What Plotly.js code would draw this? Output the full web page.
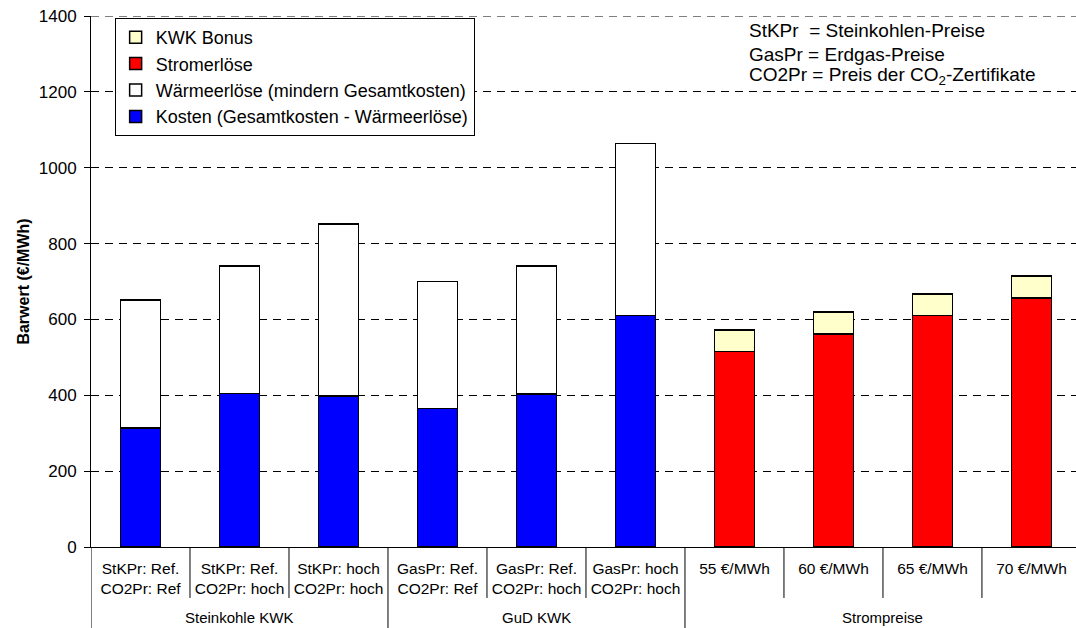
<!DOCTYPE html>
<html>
<head>
<meta charset="utf-8">
<script src="https://cdn.plot.ly/plotly-3.0.1.min.js"></script>
<style>html,body{margin:0;padding:0;background:#fff;}#chart{width:1076px;height:628px;}</style>
</head>
<body>
<div id="chart"></div>
<script>
// ---- data ----
const categories = [
  "StKPr: Ref.<br>CO2Pr: Ref",
  "StKPr: Ref.<br>CO2Pr: hoch",
  "StKPr: hoch<br>CO2Pr: hoch",
  "GasPr: Ref.<br>CO2Pr: Ref",
  "GasPr: Ref.<br>CO2Pr: hoch",
  "GasPr: hoch<br>CO2Pr: hoch",
  "55 €/MWh",
  "60 €/MWh",
  "65 €/MWh",
  "70 €/MWh"
];
const groups = ["Steinkohle KWK", "GuD KWK", "Strompreise"];
const groupSizes = [3, 3, 4];
const kosten = [314, 405, 398, 365, 404, 610, null, null, null, null];
const waermeerloese = [337, 336, 453, 335, 337, 454, null, null, null, null];
const stromerloese = [null, null, null, null, null, null, 515, 562, 610, 657];
const kwkBonus = [null, null, null, null, null, null, 57, 57, 57, 57];
const glossary = [
  "StKPr\u00a0 = Steinkohlen-Preise",
  "GasPr = Erdgas-Preise",
  "CO2Pr = Preis der CO<sub>2</sub>-Zertifikate"
];
const yTitle = "Barwert (€/MWh)";
const yMax = 1400;

// ---- styling ----
const FONT = "Liberation Sans, Arial, sans-serif";
const outline = {color: "#000", width: 1.5};

const traces = [
  {name: "Kosten (Gesamtkosten - Wärmeerlöse)", y: kosten, color: "#0000FF"},
  {name: "Wärmeerlöse (mindern Gesamtkosten)", y: waermeerloese, color: "#FFFFFF"},
  {name: "Stromerlöse", y: stromerloese, color: "#FF0000"},
  {name: "KWK Bonus", y: kwkBonus, color: "#FFFFCC"}
].map(t => ({
  type: "bar", x: categories, y: t.y, name: t.name,
  width: 0.4,
  marker: {color: t.color, line: outline},
  hoverinfo: "x+y+name"
}));

// separators and group labels below the axis
const shapes = [];
const annotations = [];
let start = 0;
groups.forEach((g, gi) => {
  const n = groupSizes[gi];
  shapes.push({type: "line", xref: "x", yref: "paper", x0: start - 0.5, x1: start - 0.5, y0: 0, y1: -0.16,
    line: {color: "#000", width: 1}});
  for (let k = 1; k < n; k++) {
    const xb = start + k - 0.5;
    shapes.push({type: "line", xref: "x", yref: "paper", x0: xb, x1: xb, y0: 0, y1: -0.096,
      line: {color: "#000", width: 1}});
  }
  annotations.push({xref: "x", yref: "paper", x: start + (n - 1) / 2, y: -0.1337, yanchor: "middle",
    text: g, showarrow: false, font: {family: FONT, size: 15, color: "#000"}});
  start += n;
});
shapes.push({type: "line", xref: "x", yref: "paper", x0: start - 0.5, x1: start - 0.5, y0: 0, y1: -0.16,
  line: {color: "#000", width: 1}});
// top gridline (at the range end, which Plotly does not draw)
shapes.push({type: "line", xref: "paper", yref: "y", x0: 0, x1: 1, y0: yMax, y1: yMax, layer: "below",
  line: {color: "#000", width: 1, dash: "8px,6px"}});

const glossY = [0.9718, 0.9284, 0.8870];
glossary.forEach((t, i) => {
  annotations.push({xref: "paper", yref: "paper", x: 0.666, y: glossY[i], xanchor: "left", yanchor: "middle",
    text: t, showarrow: false, font: {family: FONT, size: 19, color: "#000"}});
});

const layout = {
  width: 1076, height: 628,
  margin: {l: 91, r: 0, t: 16, b: 81, pad: 0},
  paper_bgcolor: "#fff", plot_bgcolor: "#fff",
  font: {family: FONT, color: "#000"},
  barmode: "stack",
  showlegend: true,
  legend: {
    x: 0.024, y: 0.9962, xanchor: "left", yanchor: "top",
    traceorder: "reversed",
    bgcolor: "#fff", bordercolor: "#000", borderwidth: 1,
    font: {family: FONT, size: 18, color: "#000"}
  },
  xaxis: {
    type: "category",
    range: [-0.5, 9.45],
    showline: true, linecolor: "#000", linewidth: 1,
    ticks: "", showgrid: false, zeroline: false,
    tickfont: {family: FONT, size: 15.5, color: "#000"},
    ticklabelstandoff: 7,
    fixedrange: true
  },
  yaxis: {
    range: [0, yMax], dtick: 200, tick0: 0,
    showline: true, linecolor: "#000", linewidth: 1,
    ticks: "outside", ticklen: 6, tickcolor: "#000", tickwidth: 1,
    showgrid: true, gridcolor: "#000", gridwidth: 1, griddash: "8px,6px",
    zeroline: false,
    tickfont: {family: FONT, size: 17, color: "#000"},
    ticklabelstandoff: 4,
    title: {text: yTitle, font: {family: FONT, size: 16, color: "#000", weight: "bold"}, standoff: 5},
    fixedrange: true
  },
  shapes: shapes,
  annotations: annotations
};

Plotly.newPlot("chart", traces, layout, {displayModeBar: false, staticPlot: true});
</script>
</body>
</html>
